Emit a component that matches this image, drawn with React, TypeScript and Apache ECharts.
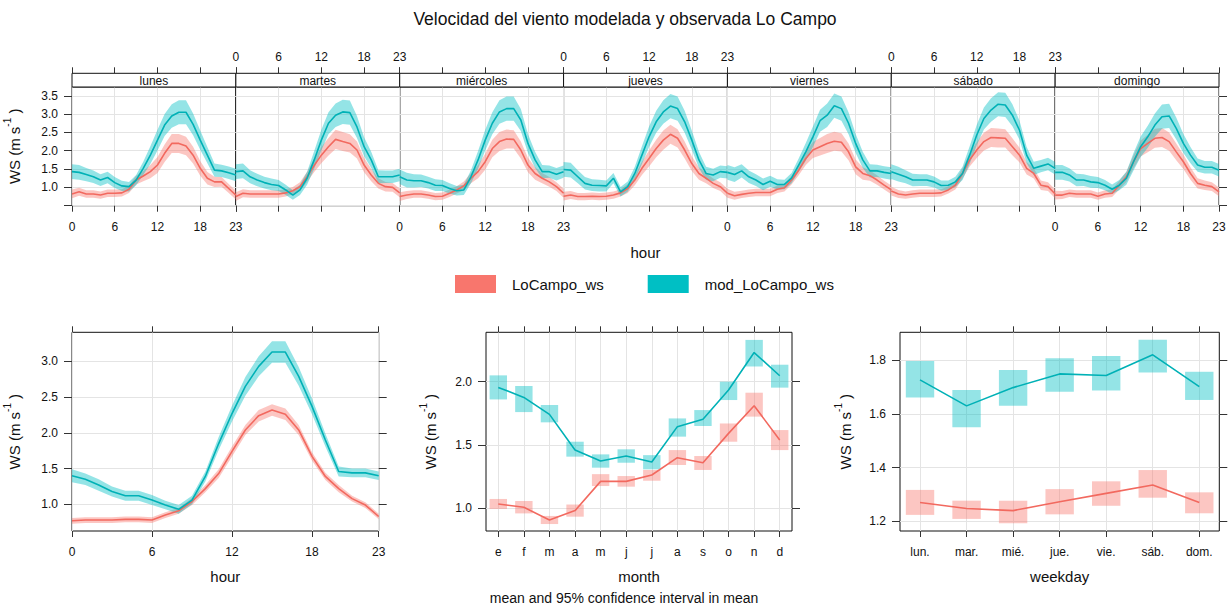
import { useEffect, useRef } from 'react';
import * as echarts from 'echarts';

const FONT = '"Liberation Sans", Arial, Helvetica, sans-serif';

// ---- data ---------------------------------------------------------------
const dayNames = ['lunes', 'martes', 'miércoles', 'jueves', 'viernes', 'sábado', 'domingo'];
const hours = [0, 1, 2, 3, 4, 5, 6, 7, 8, 9, 10, 11, 12, 13, 14, 15, 16, 17, 18, 19, 20, 21, 22, 23];

// observed wind speed by weekday and hour (m/s)
const obsByDay: number[][] = [
  [0.82, 0.88, 0.82, 0.82, 0.79, 0.84, 0.84, 0.85, 0.95, 1.2, 1.31, 1.43, 1.61, 1.93, 2.2, 2.2, 2.13, 1.88, 1.52, 1.25, 1.15, 1.15, 0.97, 0.79],
  [0.75, 0.84, 0.82, 0.82, 0.82, 0.82, 0.82, 0.85, 0.91, 1.02, 1.29, 1.6, 1.88, 2.11, 2.31, 2.25, 2.2, 2.02, 1.61, 1.34, 1.11, 1.02, 1.0, 0.85],
  [0.75, 0.79, 0.82, 0.82, 0.79, 0.75, 0.76, 0.84, 0.93, 1.04, 1.25, 1.43, 1.7, 2.06, 2.25, 2.32, 2.31, 2.02, 1.61, 1.38, 1.25, 1.15, 1.02, 0.84],
  [0.76, 0.79, 0.75, 0.75, 0.76, 0.75, 0.76, 0.79, 0.85, 0.97, 1.2, 1.52, 1.79, 2.06, 2.29, 2.45, 2.34, 2.02, 1.65, 1.38, 1.25, 1.11, 1.02, 0.84],
  [0.84, 0.77, 0.81, 0.84, 0.86, 0.86, 0.86, 0.95, 0.99, 1.2, 1.47, 1.79, 2.02, 2.11, 2.2, 2.26, 2.23, 1.97, 1.56, 1.38, 1.32, 1.2, 1.06, 0.93],
  [0.9, 0.82, 0.79, 0.82, 0.84, 0.84, 0.84, 0.85, 0.93, 1.06, 1.38, 1.75, 2.02, 2.25, 2.36, 2.35, 2.34, 2.11, 1.88, 1.52, 1.38, 1.06, 1.02, 0.82],
  [0.79, 0.79, 0.84, 0.82, 0.82, 0.82, 0.76, 0.82, 0.84, 1.06, 1.29, 1.7, 2.06, 2.2, 2.34, 2.36, 2.25, 1.97, 1.7, 1.38, 1.11, 1.06, 1.02, 0.88],
];
// modelled wind speed by weekday and hour (m/s)
const modByDay: number[][] = [
  [1.43, 1.41, 1.35, 1.29, 1.2, 1.27, 1.13, 1.04, 1.02, 1.2, 1.52, 1.88, 2.29, 2.7, 2.95, 3.05, 3.05, 2.72, 2.29, 1.88, 1.47, 1.45, 1.4, 1.34],
  [1.43, 1.45, 1.29, 1.2, 1.13, 1.08, 1.05, 0.93, 0.79, 0.93, 1.25, 1.75, 2.29, 2.75, 2.97, 3.06, 3.04, 2.65, 2.11, 1.75, 1.29, 1.29, 1.29, 1.34],
  [1.29, 1.2, 1.18, 1.18, 1.13, 1.06, 1.05, 0.97, 0.91, 0.93, 1.29, 1.75, 2.29, 2.75, 3.06, 3.15, 3.15, 2.84, 2.2, 1.75, 1.43, 1.43, 1.36, 1.43],
  [1.49, 1.47, 1.29, 1.11, 1.06, 1.05, 1.04, 1.25, 0.88, 1.02, 1.38, 1.88, 2.38, 2.79, 3.06, 3.22, 3.15, 2.79, 2.29, 1.75, 1.38, 1.34, 1.43, 1.41],
  [1.41, 1.35, 1.45, 1.29, 1.2, 1.08, 1.17, 1.08, 1.08, 1.25, 1.61, 1.97, 2.38, 2.82, 2.97, 3.23, 3.15, 2.75, 2.2, 1.75, 1.45, 1.45, 1.41, 1.38],
  [1.43, 1.36, 1.29, 1.2, 1.2, 1.2, 1.15, 1.05, 1.06, 1.15, 1.38, 1.88, 2.43, 2.88, 3.11, 3.27, 3.25, 2.97, 2.56, 1.88, 1.52, 1.58, 1.64, 1.52],
  [1.41, 1.41, 1.34, 1.2, 1.2, 1.15, 1.13, 1.06, 0.95, 1.06, 1.25, 1.7, 2.11, 2.38, 2.7, 2.93, 2.95, 2.61, 2.2, 1.88, 1.61, 1.55, 1.55, 1.47],
];
// half-width of the 95% interval for the weekday-by-hour means
const obsDayHalfCi = [0.12, 0.11, 0.1, 0.1, 0.1, 0.1, 0.1, 0.1, 0.1, 0.12, 0.14, 0.18, 0.22, 0.24, 0.26, 0.26, 0.25, 0.23, 0.2, 0.17, 0.14, 0.13, 0.12, 0.12];
const modDayHalfCi = [0.2, 0.2, 0.18, 0.17, 0.16, 0.16, 0.15, 0.14, 0.13, 0.14, 0.18, 0.24, 0.28, 0.3, 0.32, 0.33, 0.33, 0.3, 0.26, 0.22, 0.18, 0.17, 0.17, 0.17];

// all-days hourly means
const obsHour = [0.77, 0.78, 0.78, 0.78, 0.79, 0.79, 0.78, 0.85, 0.91, 1.04, 1.22, 1.43, 1.74, 2.04, 2.24, 2.32, 2.26, 2.04, 1.67, 1.39, 1.22, 1.08, 0.99, 0.83];
const obsHourHalfCi = [0.04, 0.04, 0.04, 0.04, 0.04, 0.04, 0.04, 0.04, 0.04, 0.05, 0.05, 0.06, 0.07, 0.07, 0.08, 0.08, 0.08, 0.07, 0.06, 0.05, 0.05, 0.04, 0.04, 0.04];
const modHour = [1.4, 1.35, 1.27, 1.18, 1.12, 1.12, 1.06, 0.99, 0.93, 1.06, 1.39, 1.85, 2.27, 2.65, 2.93, 3.13, 3.13, 2.79, 2.37, 1.9, 1.46, 1.44, 1.44, 1.4];
const modHourHalfCi = [0.09, 0.08, 0.08, 0.07, 0.07, 0.07, 0.07, 0.06, 0.06, 0.06, 0.07, 0.09, 0.11, 0.13, 0.14, 0.15, 0.15, 0.13, 0.11, 0.09, 0.07, 0.06, 0.06, 0.06];

// monthly means with 95% interval
const monthLabels = ['e', 'f', 'm', 'a', 'm', 'j', 'j', 'a', 's', 'o', 'n', 'd'];
const obsMonth = [1.034, 1.008, 0.908, 0.982, 1.213, 1.213, 1.263, 1.4, 1.36, 1.592, 1.81, 1.54];
const obsMonthLow = [0.995, 0.96, 0.876, 0.934, 1.176, 1.171, 1.218, 1.342, 1.303, 1.526, 1.724, 1.46];
const obsMonthHigh = [1.074, 1.058, 0.94, 1.03, 1.27, 1.255, 1.303, 1.46, 1.413, 1.67, 1.913, 1.618];
const modMonth = [1.955, 1.876, 1.742, 1.46, 1.374, 1.413, 1.366, 1.645, 1.703, 1.934, 2.23, 2.047];
const modMonthLow = [1.86, 1.76, 1.679, 1.408, 1.321, 1.36, 1.308, 1.566, 1.65, 1.855, 2.12, 1.953];
const modMonthHigh = [2.05, 1.966, 1.816, 1.526, 1.426, 1.466, 1.42, 1.71, 1.776, 2.0, 2.33, 2.134];

// weekday means with 95% interval
const weekdayLabels = ['lun.', 'mar.', 'mié.', 'jue.', 'vie.', 'sáb.', 'dom.'];
const obsWeekday = [1.27, 1.248, 1.24, 1.273, 1.304, 1.335, 1.27];
const obsWeekdayLow = [1.224, 1.209, 1.193, 1.226, 1.258, 1.288, 1.23];
const obsWeekdayHigh = [1.317, 1.277, 1.277, 1.32, 1.349, 1.391, 1.308];
const modWeekday = [1.727, 1.63, 1.698, 1.749, 1.743, 1.82, 1.702];
const modWeekdayLow = [1.661, 1.55, 1.63, 1.683, 1.687, 1.754, 1.652];
const modWeekdayHigh = [1.797, 1.689, 1.764, 1.807, 1.816, 1.876, 1.757];

// tick positions
const hourTicks = [0, 6, 12, 18, 23];
const topYTicks = [0.5, 1, 1.5, 2, 2.5, 3, 3.5];
const topYLabels = [1, 1.5, 2, 2.5, 3, 3.5];
const hourYTicks = [1, 1.5, 2, 2.5, 3];
const monthYTicks = [1, 1.5, 2];
const weekdayYTicks = [1.2, 1.4, 1.6, 1.8];

const OBS_NAME = 'LoCampo_ws';
const MOD_NAME = 'mod_LoCampo_ws';

// ---- styling ------------------------------------------------------------
const OBS_KEY = '#F8766D';
const MOD_KEY = '#00BFC4';
const OBS_LINE = '#F2695F';
const MOD_LINE = '#00B1B6';
const OBS_FILL = 'rgba(248,118,109,0.42)';
const MOD_FILL = 'rgba(0,191,196,0.42)';
const GRID_COLOR = '#e4e4e4';

const TOP = { left: 72, right: 1219, stripTop: 73.3, top: 87, bottom: 205.7 };
const DAY_W = (TOP.right - TOP.left) / 7;
const LOW = { top: 332.3, bottom: 531 };
const LOW_PANELS = [
  { left: 72, right: 378.7 },
  { left: 486, right: 792 },
  { left: 900, right: 1219.3 },
];

const xTick = { show: true, inside: false, length: 6, lineStyle: { color: '#333', width: 1 } };
const yTick = { show: true, inside: false, length: 8, lineStyle: { color: '#333', width: 1 } };
const noLine = { show: false, onZero: false };
const label = { color: '#111', fontSize: 12, fontFamily: FONT };
const split = { show: true, lineStyle: { color: GRID_COLOR, width: 1 } };
const fmt1 = (v: number) => v.toFixed(1);

const wsName = '{b|WS (m s}{s|-1}{b| )}';
const wsNameStyle = {
  color: '#111',
  fontFamily: FONT,
  fontSize: 15,
  rich: {
    b: { fontSize: 15, fontFamily: FONT, color: '#111', lineHeight: 24 },
    s: { fontSize: 10, fontFamily: FONT, color: '#111', verticalAlign: 'top', lineHeight: 12 },
  },
};

function bandSeries(name: string, xi: number, yi: number, xs: number[], lo: number[], hi: number[], fill: string) {
  const pts = xs.map((x, k) => [x, lo[k], hi[k]]);
  return {
    type: 'custom',
    name,
    xAxisIndex: xi,
    yAxisIndex: yi,
    silent: true,
    z: 2,
    data: pts,
    encode: { x: 0, y: [1, 2] },
    renderItem: (params: any, api: any) => {
      if (params.dataIndex !== 0) return null;
      const up = pts.map((p) => api.coord([p[0], p[2]]));
      const dn = pts.map((p) => api.coord([p[0], p[1]])).reverse();
      return { type: 'polygon', shape: { points: up.concat(dn) }, style: { fill } };
    },
  };
}

function lineSeries(name: string, xi: number, yi: number, xs: number[], ys: number[], color: string) {
  return {
    type: 'line',
    name,
    xAxisIndex: xi,
    yAxisIndex: yi,
    data: xs.map((x, k) => [x, ys[k]]),
    showSymbol: false,
    symbol: 'none',
    silent: true,
    z: 3,
    lineStyle: { color, width: 1.6 },
    itemStyle: { color },
  };
}

function boxSeries(name: string, xi: number, yi: number, lo: number[], hi: number[], halfW: number, fill: string) {
  return {
    type: 'custom',
    name,
    xAxisIndex: xi,
    yAxisIndex: yi,
    silent: true,
    z: 2,
    data: lo.map((l, k) => [k, l, hi[k]]),
    encode: { x: 0, y: [1, 2] },
    renderItem: (_params: any, api: any) => {
      const x = api.value(0);
      const a = api.coord([x - halfW, api.value(2)]);
      const b = api.coord([x + halfW, api.value(1)]);
      return { type: 'rect', shape: { x: a[0], y: a[1], width: b[0] - a[0], height: b[1] - a[1] }, style: { fill } };
    },
  };
}

function buildOption() {
  const grids: any[] = [];
  const xAxes: any[] = [];
  const yAxes: any[] = [];
  const series: any[] = [];
  const graphics: any[] = [];

  // ---- hour by weekday panels ----
  dayNames.forEach((day, i) => {
    const left = TOP.left + i * DAY_W;
    grids.push({ left, top: TOP.top, width: DAY_W, height: TOP.bottom - TOP.top, show: true, borderColor: '#111', borderWidth: 1 });
    const xi = xAxes.length;
    xAxes.push({
      type: 'value', gridIndex: i, position: 'bottom', min: 0, max: 23, interval: 6,
      axisLine: noLine,
      axisTick: { ...xTick, customValues: hourTicks },
      axisLabel: { ...label, show: i % 2 === 0, margin: 15, customValues: hourTicks },
      splitLine: split,
    });
    xAxes.push({
      type: 'value', gridIndex: i, position: 'top', offset: TOP.top - TOP.stripTop, min: 0, max: 23, interval: 6,
      axisLine: noLine,
      axisTick: { ...xTick, customValues: hourTicks },
      axisLabel: { ...label, show: i % 2 === 1, margin: 10, customValues: hourTicks },
      splitLine: { show: false },
    });
    const yi = yAxes.length;
    yAxes.push({
      type: 'value', gridIndex: i, position: 'left', min: 0.5, max: 3.74, interval: 0.5,
      axisLine: noLine,
      axisTick: { ...yTick, show: i === 0, customValues: topYTicks },
      axisLabel: { ...label, show: i === 0, margin: 14, customValues: topYLabels, formatter: fmt1 },
      splitLine: split,
      name: i === 0 ? wsName : '',
      nameLocation: 'middle', nameRotate: 90, nameGap: 46, nameTextStyle: wsNameStyle,
    });
    if (i === 6) {
      yAxes.push({
        type: 'value', gridIndex: i, position: 'right', min: 0.5, max: 3.74, interval: 0.5,
        axisLine: noLine,
        axisTick: { ...yTick, customValues: topYTicks },
        axisLabel: { show: false },
        splitLine: { show: false },
      });
    }
    const obs = obsByDay[i];
    const mod = modByDay[i];
    series.push(bandSeries(OBS_NAME, xi, yi, hours, obs.map((v, k) => v - obsDayHalfCi[k]), obs.map((v, k) => v + obsDayHalfCi[k]), OBS_FILL));
    series.push(bandSeries(MOD_NAME, xi, yi, hours, mod.map((v, k) => v - modDayHalfCi[k]), mod.map((v, k) => v + modDayHalfCi[k]), MOD_FILL));
    series.push(lineSeries(OBS_NAME, xi, yi, hours, obs, OBS_LINE));
    series.push(lineSeries(MOD_NAME, xi, yi, hours, mod, MOD_LINE));

    // strip with the day name
    graphics.push({
      type: 'rect', silent: true, z: 10,
      shape: { x: left, y: TOP.stripTop, width: DAY_W, height: TOP.top - TOP.stripTop },
      style: { fill: '#fff', stroke: '#111', lineWidth: 1 },
    });
    graphics.push({
      type: 'text', silent: true, z: 11,
      x: left + DAY_W / 2, y: (TOP.stripTop + TOP.top) / 2 + 0.5,
      style: { text: day, fontSize: 12, fontFamily: FONT, fill: '#111', align: 'center', verticalAlign: 'middle' },
    });
  });

  // ---- lower panels ----
  const lowerGrid = (p: { left: number; right: number }) => {
    grids.push({ left: p.left, top: LOW.top, width: p.right - p.left, height: LOW.bottom - LOW.top, show: true, borderColor: '#111', borderWidth: 1 });
    return grids.length - 1;
  };
  const axisName = (name: string) => ({
    name, nameLocation: 'middle', nameGap: 38,
    nameTextStyle: { color: '#111', fontSize: 15, fontFamily: FONT },
  });

  // hour
  {
    const g = lowerGrid(LOW_PANELS[0]);
    const xi = xAxes.length;
    xAxes.push({
      type: 'value', gridIndex: g, position: 'bottom', min: 0, max: 23, interval: 6,
      axisLine: noLine,
      axisTick: { ...xTick, customValues: hourTicks },
      axisLabel: { ...label, margin: 15, customValues: hourTicks },
      splitLine: split, ...axisName('hour'),
    });
    xAxes.push({
      type: 'value', gridIndex: g, position: 'top', min: 0, max: 23, interval: 6,
      axisLine: noLine, axisTick: { ...xTick, customValues: hourTicks }, axisLabel: { show: false }, splitLine: { show: false },
    });
    const yi = yAxes.length;
    yAxes.push({
      type: 'value', gridIndex: g, position: 'left', min: 0.627, max: 3.406, minInterval: 0.5, maxInterval: 0.5,
      axisLine: noLine,
      axisTick: { ...yTick, customValues: hourYTicks },
      axisLabel: { ...label, margin: 14, customValues: hourYTicks, formatter: fmt1 },
      splitLine: split,
      name: wsName, nameLocation: 'middle', nameRotate: 90, nameGap: 46, nameTextStyle: wsNameStyle,
    });
    yAxes.push({
      type: 'value', gridIndex: g, position: 'right', min: 0.627, max: 3.406, minInterval: 0.5, maxInterval: 0.5,
      axisLine: noLine, axisTick: { ...yTick, customValues: hourYTicks }, axisLabel: { show: false }, splitLine: { show: false },
    });
    series.push(bandSeries(OBS_NAME, xi, yi, hours, obsHour.map((v, k) => v - obsHourHalfCi[k]), obsHour.map((v, k) => v + obsHourHalfCi[k]), OBS_FILL));
    series.push(bandSeries(MOD_NAME, xi, yi, hours, modHour.map((v, k) => v - modHourHalfCi[k]), modHour.map((v, k) => v + modHourHalfCi[k]), MOD_FILL));
    series.push(lineSeries(OBS_NAME, xi, yi, hours, obsHour, OBS_LINE));
    series.push(lineSeries(MOD_NAME, xi, yi, hours, modHour, MOD_LINE));
  }

  // month
  {
    const g = lowerGrid(LOW_PANELS[1]);
    const idx = monthLabels.map((_, k) => k);
    const xi = xAxes.length;
    xAxes.push({
      type: 'value', gridIndex: g, position: 'bottom', min: -0.48, max: 11.48, minInterval: 1, maxInterval: 1,
      axisLine: noLine,
      axisTick: { ...xTick, customValues: idx },
      axisLabel: { ...label, margin: 15, customValues: idx, formatter: (v: number) => monthLabels[Math.round(v)] },
      splitLine: split, ...axisName('month'),
    });
    xAxes.push({
      type: 'value', gridIndex: g, position: 'top', min: -0.48, max: 11.48, minInterval: 1, maxInterval: 1,
      axisLine: noLine, axisTick: { ...xTick, customValues: idx }, axisLabel: { show: false }, splitLine: { show: false },
    });
    const yi = yAxes.length;
    yAxes.push({
      type: 'value', gridIndex: g, position: 'left', min: 0.821, max: 2.39, minInterval: 0.5, maxInterval: 0.5,
      axisLine: noLine,
      axisTick: { ...yTick, customValues: monthYTicks },
      axisLabel: { ...label, margin: 14, customValues: monthYTicks, formatter: fmt1 },
      splitLine: split,
      name: wsName, nameLocation: 'middle', nameRotate: 90, nameGap: 44, nameTextStyle: wsNameStyle,
    });
    yAxes.push({
      type: 'value', gridIndex: g, position: 'right', min: 0.821, max: 2.39, minInterval: 0.5, maxInterval: 0.5,
      axisLine: noLine, axisTick: { ...yTick, customValues: monthYTicks }, axisLabel: { show: false }, splitLine: { show: false },
    });
    series.push(boxSeries(OBS_NAME, xi, yi, obsMonthLow, obsMonthHigh, 0.34, OBS_FILL));
    series.push(boxSeries(MOD_NAME, xi, yi, modMonthLow, modMonthHigh, 0.34, MOD_FILL));
    series.push(lineSeries(OBS_NAME, xi, yi, idx, obsMonth, OBS_LINE));
    series.push(lineSeries(MOD_NAME, xi, yi, idx, modMonth, MOD_LINE));
  }

  // weekday
  {
    const g = lowerGrid(LOW_PANELS[2]);
    const idx = weekdayLabels.map((_, k) => k);
    const xi = xAxes.length;
    xAxes.push({
      type: 'value', gridIndex: g, position: 'bottom', min: -0.43, max: 6.43, minInterval: 1, maxInterval: 1,
      axisLine: noLine,
      axisTick: { ...xTick, customValues: idx },
      axisLabel: { ...label, margin: 15, customValues: idx, formatter: (v: number) => weekdayLabels[Math.round(v)] },
      splitLine: split, ...axisName('weekday'),
    });
    xAxes.push({
      type: 'value', gridIndex: g, position: 'top', min: -0.43, max: 6.43, minInterval: 1, maxInterval: 1,
      axisLine: noLine, axisTick: { ...xTick, customValues: idx }, axisLabel: { show: false }, splitLine: { show: false },
    });
    const yi = yAxes.length;
    yAxes.push({
      type: 'value', gridIndex: g, position: 'left', min: 1.164, max: 1.904, minInterval: 0.2, maxInterval: 0.2,
      axisLine: noLine,
      axisTick: { ...yTick, customValues: weekdayYTicks },
      axisLabel: { ...label, margin: 14, customValues: weekdayYTicks, formatter: fmt1 },
      splitLine: split,
      name: wsName, nameLocation: 'middle', nameRotate: 90, nameGap: 43, nameTextStyle: wsNameStyle,
    });
    yAxes.push({
      type: 'value', gridIndex: g, position: 'right', min: 1.164, max: 1.904, minInterval: 0.2, maxInterval: 0.2,
      axisLine: noLine, axisTick: { ...yTick, customValues: weekdayYTicks }, axisLabel: { show: false }, splitLine: { show: false },
    });
    series.push(boxSeries(OBS_NAME, xi, yi, obsWeekdayLow, obsWeekdayHigh, 0.305, OBS_FILL));
    series.push(boxSeries(MOD_NAME, xi, yi, modWeekdayLow, modWeekdayHigh, 0.305, MOD_FILL));
    series.push(lineSeries(OBS_NAME, xi, yi, idx, obsWeekday, OBS_LINE));
    series.push(lineSeries(MOD_NAME, xi, yi, idx, modWeekday, MOD_LINE));
  }

  // titles
  graphics.push({
    type: 'text', silent: true, x: 625, y: 19,
    style: { text: 'Velocidad del viento modelada y observada Lo Campo', fontSize: 17.5, fontFamily: FONT, fill: '#111', align: 'center', verticalAlign: 'middle' },
  });
  graphics.push({
    type: 'text', silent: true, x: (TOP.left + TOP.right) / 2, y: 252,
    style: { text: 'hour', fontSize: 15, fontFamily: FONT, fill: '#111', align: 'center', verticalAlign: 'middle' },
  });
  graphics.push({
    type: 'text', silent: true, x: 624, y: 598,
    style: { text: 'mean and 95% confidence interval in mean', fontSize: 14, fontFamily: FONT, fill: '#111', align: 'center', verticalAlign: 'middle' },
  });

  return {
    animation: false,
    backgroundColor: '#fff',
    textStyle: { fontFamily: FONT },
    legend: {
      left: 455, top: 275, padding: 0, itemWidth: 41, itemHeight: 18, itemGap: 44, icon: 'rect', selectedMode: false,
      textStyle: { color: '#111', fontSize: 15, fontFamily: FONT, padding: [0, 0, 0, 11] },
      data: [
        { name: OBS_NAME, icon: 'rect', itemStyle: { color: OBS_KEY, borderWidth: 0 } },
        { name: MOD_NAME, icon: 'rect', itemStyle: { color: MOD_KEY, borderWidth: 0 } },
      ],
    },
    grid: grids,
    xAxis: xAxes,
    yAxis: yAxes,
    series,
    graphic: graphics,
  };
}

export default function App() {
  const ref = useRef<HTMLDivElement>(null);
  useEffect(() => {
    if (!ref.current) return;
    const chart = echarts.init(ref.current, null, { renderer: 'svg' });
    chart.setOption(buildOption() as any);
    return () => chart.dispose();
  }, []);
  return (
    <div
      ref={ref}
      style={{ position: 'fixed', left: 0, top: 0, width: 1231, height: 608, background: '#fff' }}
    />
  );
}
